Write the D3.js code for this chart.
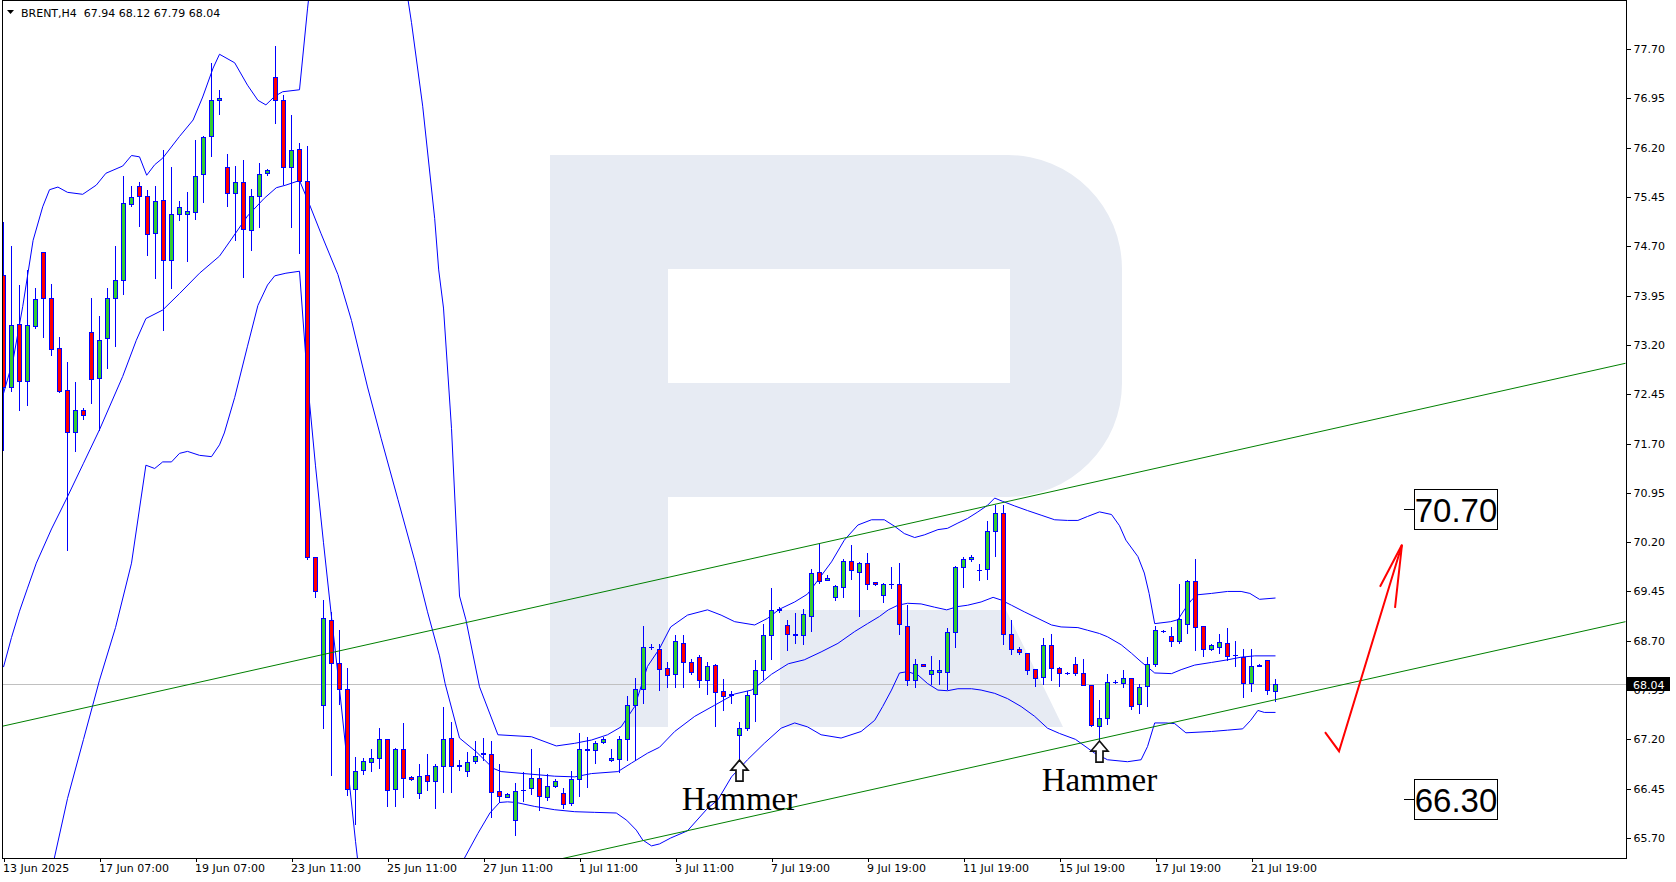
<!DOCTYPE html>
<html><head><meta charset="utf-8">
<script src="https://cdn.jsdelivr.net/npm/d3@7"></script>
<style>
html,body{margin:0;padding:0;background:#fff;}
svg{display:block;}
</style></head><body>
<svg id="chart" width="1676" height="882"></svg>
<script>
// ---------------- data ----------------
const symbolTitle = "BRENT,H4";
const lastQuote = [67.94, 68.12, 67.79, 68.04];
const lastPrice = 68.04;

const opens = [74.27,72.56,73.52,72.65,73.49,74.61,73.92,73.15,72.51,71.88,72.21,73.40,72.69,73.30,73.92,74.18,75.34,75.61,75.47,74.90,
75.40,74.49,75.19,75.19,75.22,75.80,76.38,76.93,75.90,75.51,75.68,74.95,75.47,75.82,77.28,76.92,75.91,76.18,75.69,69.97,
67.73,69.02,68.36,67.97,66.44,66.73,66.86,66.91,67.20,66.44,67.06,66.63,66.39,66.66,66.56,66.80,67.22,66.80,66.72,66.87,
66.98,66.97,66.42,66.33,65.98,66.43,66.46,66.62,66.32,66.49,66.39,66.23,66.59,67.06,67.04,67.16,66.88,66.90,67.20,67.73,
67.96,68.61,68.57,68.28,68.19,68.67,68.38,68.45,68.11,68.33,67.94,67.88,67.26,67.37,67.89,68.26,68.79,69.17,68.94,68.81,
68.78,69.08,69.74,69.62,69.36,69.52,69.91,69.75,69.89,69.59,69.39,69.56,69.56,68.93,68.11,68.35,68.19,68.22,68.22,68.83,
69.82,69.94,69.78,69.79,70.37,70.64,68.81,68.57,68.51,68.27,68.15,68.64,68.28,68.21,68.34,68.21,68.03,67.41,67.52,68.08,
68.05,68.13,67.74,68.01,68.34,68.85,68.77,68.69,68.96,69.61,68.92,68.58,68.61,68.66,68.48,68.46,68.05,68.32,68.40,67.94];
const highs = [75.07,74.71,74.11,74.34,74.07,74.61,74.13,73.32,72.94,72.64,72.24,73.92,73.64,74.07,74.71,75.77,75.62,75.67,75.56,75.62,
76.16,75.90,75.39,75.52,76.32,76.38,77.49,77.08,76.11,75.92,76.01,75.57,75.97,75.88,77.74,77.00,76.70,76.27,76.23,69.98,
69.32,69.14,68.86,68.29,66.93,66.91,67.05,67.37,67.21,67.07,67.45,66.64,66.83,66.98,66.83,67.69,67.46,66.88,67.01,67.17,
67.22,67.18,66.82,66.38,66.53,66.71,67.05,66.76,66.68,66.59,66.46,66.72,67.29,67.24,67.18,67.23,67.05,67.25,67.86,68.13,
68.92,68.65,68.65,68.38,68.79,68.79,68.43,68.48,68.38,68.35,68.12,67.93,67.47,67.93,68.40,68.95,69.50,69.22,69.01,69.12,
69.18,69.79,70.17,69.70,69.55,69.94,70.16,69.90,70.04,69.60,69.58,69.82,69.89,69.24,68.43,68.35,68.47,68.41,68.89,69.83,
69.98,70.00,69.87,70.52,70.76,70.76,69.02,68.61,68.51,68.27,68.74,68.80,68.30,68.23,68.45,68.43,68.03,67.80,68.19,68.10,
68.25,68.13,68.04,68.45,68.92,68.86,68.91,69.56,69.62,69.94,68.93,68.65,68.81,68.90,68.70,68.57,68.57,68.34,68.41,68.12];
const lows = [71.60,72.50,72.21,72.28,73.45,73.32,73.05,72.49,70.08,71.59,72.07,72.31,71.91,72.85,73.19,73.97,75.31,75.01,74.57,74.22,
73.43,74.07,75.10,74.48,75.12,75.37,76.08,76.71,75.31,74.79,74.23,74.65,74.99,75.79,76.58,75.64,74.99,74.59,69.95,69.37,
67.37,66.66,67.74,66.35,65.92,66.68,66.72,66.77,66.19,66.19,66.33,66.58,66.31,66.43,66.15,66.40,66.40,66.73,66.64,66.84,
66.89,66.02,66.25,66.32,65.75,66.27,66.37,66.13,66.28,66.48,66.15,66.20,66.34,66.47,66.84,67.15,66.87,66.71,66.89,66.88,
67.76,68.57,67.95,68.00,67.99,67.99,68.19,67.99,67.89,67.41,67.64,67.76,66.90,67.35,67.48,68.12,68.43,69.14,68.56,68.67,
68.65,68.85,69.58,69.62,69.32,69.36,69.64,69.07,69.49,69.55,69.29,69.50,68.80,68.02,67.99,68.31,68.04,68.04,67.96,68.61,
69.52,69.92,69.63,69.64,69.99,68.65,68.50,68.50,68.19,68.01,68.04,68.11,68.01,68.19,68.18,68.02,67.40,67.19,67.43,68.06,
67.99,67.66,67.60,67.71,68.31,68.83,68.62,68.67,68.82,68.56,68.47,68.56,68.52,68.40,68.32,67.84,67.94,68.31,67.89,67.79];
const closes = [72.56,73.50,72.65,73.50,73.90,73.92,73.13,72.50,71.88,72.21,72.13,72.68,73.28,73.92,74.18,75.36,75.45,75.46,74.89,75.39,
74.49,75.19,75.30,75.23,75.77,76.36,76.93,76.96,75.51,75.68,74.96,75.47,75.80,75.86,76.92,75.91,76.17,75.69,69.97,69.46,
69.04,68.36,67.97,66.44,66.72,66.87,66.91,67.20,66.43,67.06,66.62,66.60,66.65,66.56,66.79,67.21,66.80,66.81,66.85,66.95,
66.99,66.40,66.34,66.37,66.42,66.43,66.61,66.34,66.49,66.56,66.22,66.59,67.06,67.04,67.15,67.20,66.91,67.20,67.73,67.96,
68.60,68.61,68.27,68.18,68.69,68.38,68.23,68.11,68.32,67.92,67.86,67.89,67.37,67.87,68.26,68.79,69.17,69.19,68.81,68.78,
69.10,69.73,69.61,69.65,69.53,69.91,69.77,69.89,69.56,69.56,69.56,69.56,68.95,68.11,68.35,68.31,68.25,68.25,68.84,69.82,
69.94,69.98,69.78,70.37,70.64,68.81,68.57,68.53,68.26,68.13,68.64,68.28,68.21,68.21,68.21,68.03,67.42,67.52,68.08,68.08,
68.13,67.71,67.99,68.34,68.86,68.85,68.69,69.03,69.61,68.91,68.57,68.64,68.68,68.47,68.48,68.05,68.32,68.33,67.95,68.04];

// Bollinger bands: [bar index, price]
const bbUpper = [[0,72.46],[1.2,72.97],[2.4,73.78],[3.7,74.79],[4.9,75.30],[5.75,75.56],[6.8,75.60],[8,75.52],[9.9,75.49],[11.6,75.63],[12.8,75.81],[14.9,75.92],[16,76.08],[17,76.06],[17.9,75.78],[18.9,75.94],[19.9,76.04],[22,76.37],[23.7,76.62],[24.9,76.97],[26.2,77.41],[27,77.62],[28.9,77.49],[30.5,77.15],[31.8,76.92],[32.8,76.85],[33.9,76.98],[34.9,77.05],[37,77.08],[38,78.31],[39,79.4],[40,80.1],[41,80.5],[42,80.5],[43,80.8],[44,81.0],[45,81.0],[46,80.8],[47,80.5],[48,80.1],[49,79.6],[50,78.9],[51,78.1],[52.4,76.83],[53.9,75.12],[54.4,74.34],[55,73.76],[56,71.93],[57,69.38],[57.8,69.02],[59.5,68.00],[61.8,67.27],[66,67.24],[69.1,67.10],[71.4,67.14],[73.5,67.19],[75.5,67.27],[77.2,67.39],[78.9,67.70],[80.5,68.31],[82,68.58],[83.4,68.91],[85.5,69.09],[88,69.17],[89.7,69.09],[91.4,68.99],[93.9,68.94],[95.5,69.04],[97,69.18],[98.9,69.29],[100.5,69.41],[101.8,69.62],[103.5,69.90],[105.1,70.23],[106.8,70.46],[108.5,70.54],[110.1,70.54],[111.4,70.44],[112.6,70.33],[113.9,70.27],[115.1,70.31],[116.8,70.39],[118,70.41],[119.3,70.49],[120.5,70.56],[121.8,70.66],[123,70.76],[123.9,70.87],[124.9,70.82],[126.4,70.75],[128,70.68],[129.7,70.61],[131.4,70.54],[133,70.53],[134.3,70.53],[135.5,70.59],[137,70.66],[138.5,70.62],[139.5,70.45],[140.3,70.23],[141.8,69.98],[142.6,69.73],[143.2,69.42],[143.9,68.96],[145.9,68.99],[146.8,69.02],[147.6,69.17],[148.5,69.32],[149.3,69.40],[151,69.42],[153,69.45],[154.7,69.45],[155.8,69.42],[157,69.33],[159,69.35]];
const bbMiddle = [[0,68.3],[1,68.75],[2,69.15],[3,69.5],[4.1,69.88],[6,70.4],[7.8,70.84],[10,71.4],[12,71.91],[14.9,72.72],[16.6,73.27],[17.8,73.60],[19.9,73.73],[22,73.98],[24.5,74.29],[27,74.55],[28.5,74.81],[30.5,75.16],[32.6,75.43],[34.1,75.59],[35.3,75.63],[37,75.70],[38.2,75.35],[39.7,74.89],[41.8,74.27],[43.5,73.57],[45.5,72.56],[47.2,71.78],[49.3,70.85],[51.4,69.92],[53,69.14],[54.5,68.47],[55.2,68.05],[57,67.22],[59.1,67.01],[61.2,66.76],[62.2,66.71],[66,66.67],[68.9,66.64],[71.4,66.63],[73.5,66.68],[76.8,66.71],[78.5,66.84],[80.5,66.99],[82,67.08],[83.9,67.32],[86.4,67.55],[88.9,67.72],[91.4,67.89],[93.5,67.95],[94.7,68.06],[96,68.19],[98.1,68.35],[100.1,68.41],[102.2,68.53],[104.3,68.66],[106.4,68.84],[108,68.96],[109.5,69.07],[110.6,69.17],[111.8,69.24],[113,69.27],[114.7,69.26],[116.4,69.21],[117.9,69.17],[119.3,69.22],[120.5,69.24],[122.2,69.29],[123.7,69.36],[124.7,69.32],[126,69.24],[127.6,69.14],[129.3,69.04],[131,68.94],[132.2,68.91],[134.3,68.90],[135.5,68.86],[137,68.81],[138,68.76],[139.7,68.64],[141,68.51],[142.2,68.38],[143.2,68.28],[143.9,68.21],[146,68.20],[147.2,68.26],[148.9,68.33],[151,68.37],[153,68.41],[154.7,68.45],[156.4,68.47],[159,68.47]];
const bbLower = [[0,64.1],[4,64.5],[6,65.2],[8,66.3],[10,67.2],[12,68.1],[14,68.9],[16,69.88],[17.8,71.37],[18.9,71.32],[19.9,71.42],[21,71.42],[22,71.55],[23,71.58],[24.5,71.52],[26,71.50],[27,71.68],[27.6,71.86],[28.9,72.40],[30.5,73.18],[31.8,73.80],[33,74.11],[33.9,74.25],[35.3,74.29],[37,74.32],[38,72.65],[39,71.36],[40,70.19],[41,69.06],[42,67.97],[43,66.81],[44,65.65],[45,64.6],[46,63.9],[47,63.3],[48,62.7],[49,62.4],[50,62.1],[51,62.1],[52,61.9],[53,62.1],[54,62.5],[55,62.72],[56,63.61],[57,65.28],[57.6,65.39],[59.3,65.77],[60.8,66.08],[62,66.24],[63,66.25],[64.1,66.24],[66.4,66.18],[68.9,66.13],[71.4,66.10],[73.9,66.09],[76.6,66.08],[77.9,65.97],[79.1,65.82],[79.9,65.67],[81,65.58],[82,65.61],[83.4,65.70],[85.5,65.81],[88,66.15],[89.3,66.28],[91,66.63],[93,66.89],[95.1,67.14],[97.2,67.37],[98.9,67.45],[100.5,67.39],[102.2,67.27],[104.7,67.22],[107.2,67.32],[108.9,67.49],[109.9,67.70],[111,67.95],[112,68.21],[113,68.23],[114.3,68.18],[115.5,68.05],[116.8,67.95],[118,67.94],[119.3,67.97],[121,67.97],[122.2,67.95],[123.9,67.90],[125.5,67.82],[127.2,67.70],[128.9,67.55],[130.5,67.37],[132,67.29],[134,67.20],[136.4,66.99],[138,66.89],[140.5,66.86],[142.2,66.89],[143,67.09],[143.9,67.45],[145.3,67.45],[146.4,67.44],[147.8,67.30],[151,67.32],[153,67.34],[154.9,67.36],[155.9,67.49],[156.8,67.64],[157.6,67.61],[159,67.61]];

const priceTicks = [65.70,66.45,67.20,67.95,68.70,69.45,70.20,70.95,71.70,72.45,73.20,73.95,74.70,75.45,76.20,76.95,77.70];
const timeTickBars = [0,12,24,36,48,60,72,84,96,108,120,132,144,156];
const timeTickLabels = ["13 Jun 2025","17 Jun 07:00","19 Jun 07:00","23 Jun 11:00","25 Jun 11:00","27 Jun 11:00","1 Jul 11:00","3 Jul 11:00","7 Jul 19:00","9 Jul 19:00","11 Jul 19:00","15 Jul 19:00","17 Jul 19:00","21 Jul 19:00"];

// channel lines (bar, price)
const channelUpper = [[-0.5, 67.39], [202.75, 72.92]];
const channelLower = [[60, 65.12], [202.75, 68.99]];
// annotations
const hammerBars = [92, 137];
const hammerLabel = "Hammer";
const targetLevels = [70.70, 66.30];
const forecastPath = [[165.19, 67.31], [166.94, 67.02], [174.81, 70.16]];
const forecastHead = [[172.06, 69.52], [174.81, 70.16], [173.94, 69.20]];

// ---------------- layout ----------------
const W = 1676, H = 882;
const plot = {left: 3, top: 1, right: 1626, bottom: 858};
const FONT = "'DejaVu Sans', Verdana, sans-serif";

const x = d3.scaleLinear().domain([0, 159]).range([3.5, 3.5 + 8 * 159]);
const y = d3.scaleLinear().domain([65.70, 77.70]).range([838, 49]);

const svg = d3.select("#chart");
svg.append("rect").attr("width", W).attr("height", H).attr("fill", "#fff");

const defs = svg.append("defs");
defs.append("clipPath").attr("id", "clip").append("rect")
  .attr("x", plot.left).attr("y", plot.top)
  .attr("width", plot.right - plot.left).attr("height", plot.bottom - plot.top);

const g = svg.append("g").attr("clip-path", "url(#clip)");

// watermark logo
const wm = "M550,155 H1008 A114,114 0 0 1 1122,269 V383 A114,114 0 0 1 1008,497 H668 V727 H550 Z " +
           "M668,269 H1010 V383 H668 Z";
g.append("path").attr("d", wm).attr("fill", "#e7ebf3").attr("fill-rule", "evenodd");
g.append("path").attr("d", "M780,610 H1006 L1063,727 H780 Z").attr("fill", "#e7ebf3");

// current price line
const yLast = Math.round(y(lastPrice)) + 0.5;
g.append("line").attr("x1", plot.left).attr("x2", plot.right).attr("y1", yLast).attr("y2", yLast)
  .attr("stroke", "#c0c0c0").attr("stroke-width", 1).attr("shape-rendering", "crispEdges");

// bollinger bands
const line = d3.line().x(d => x(d[0])).y(d => y(d[1]));
[bbUpper, bbMiddle, bbLower].forEach(arr => {
  g.append("path").attr("d", line(arr)).attr("fill", "none")
    .attr("stroke", "#0000ff").attr("stroke-width", 1);
});

// candles
const bars = opens.map((o, i) => ({i, o, h: highs[i], l: lows[i], c: closes[i]}));
const cg = g.append("g").attr("shape-rendering", "crispEdges");
bars.forEach(b => {
  const xc = x(b.i);
  const yh = Math.round(y(b.h)), yl = Math.round(y(b.l));
  cg.append("line").attr("x1", xc).attr("x2", xc).attr("y1", yh).attr("y2", yl + 1)
    .attr("stroke", "#0000ff").attr("stroke-width", 1);
  const yo = Math.round(y(b.o)), yc = Math.round(y(b.c));
  const top = Math.min(yo, yc), bot = Math.max(yo, yc);
  if (bot - top < 1) {
    cg.append("line").attr("x1", xc - 2.5).attr("x2", xc + 2.5).attr("y1", top + 0.5).attr("y2", top + 0.5)
      .attr("stroke", "#0000ff").attr("stroke-width", 1);
  } else {
    cg.append("rect").attr("x", xc - 2).attr("y", top + 0.5).attr("width", 4).attr("height", bot - top)
      .attr("fill", b.c >= b.o ? "#32cd32" : "#ff0000").attr("stroke", "#0000ff").attr("stroke-width", 1);
  }
});

// channel lines
[channelUpper, channelLower].forEach(arr => {
  g.append("path").attr("d", line(arr)).attr("fill", "none").attr("stroke", "#008000").attr("stroke-width", 1);
});

// hammer arrows + labels
hammerBars.forEach(i => {
  const xc = x(i), t = y(lows[i]) + 1;
  const pts = [[0,0],[8.5,10],[3.5,10],[3.5,21],[-3.5,21],[-3.5,10],[-8.5,10]].map(p => [xc + p[0], t + p[1]]);
  g.append("polygon").attr("points", pts.map(p => p.join(",")).join(" "))
    .attr("fill", "#fff").attr("stroke", "#111").attr("stroke-width", 1.7).attr("stroke-linejoin", "miter");
  g.append("text").attr("x", xc).attr("y", t + 50).attr("text-anchor", "middle")
    .attr("font-family", "'Liberation Serif', 'Times New Roman', serif").attr("font-size", 33)
    .attr("fill", "#000").text(hammerLabel);
});

// forecast arrow
g.append("path").attr("d", line(forecastPath)).attr("fill", "none").attr("stroke", "#ff0000").attr("stroke-width", 2);
g.append("path").attr("d", line(forecastHead)).attr("fill", "none").attr("stroke", "#ff0000").attr("stroke-width", 2);

// target boxes
targetLevels.forEach(v => {
  const yy = Math.round(y(v)) + 0.5;
  g.append("line").attr("x1", 1404).attr("x2", 1414).attr("y1", yy).attr("y2", yy).attr("stroke", "#000");
  g.append("rect").attr("x", 1414.5).attr("y", yy - 20).attr("width", 83).attr("height", 40)
    .attr("fill", "#fff").attr("stroke", "#000").attr("stroke-width", 1);
  g.append("text").attr("x", 1456).attr("y", yy + 12).attr("text-anchor", "middle")
    .attr("font-family", "'Liberation Sans', Arial, sans-serif").attr("font-size", 33)
    .attr("fill", "#000").text(v.toFixed(2));
});

// frame
svg.append("rect").attr("x", 2.5).attr("y", 0.5).attr("width", plot.right - 2).attr("height", plot.bottom - 0.5)
  .attr("fill", "none").attr("stroke", "#000").attr("stroke-width", 1).attr("shape-rendering", "crispEdges");

// right axis
const ya = svg.append("g").attr("transform", `translate(${plot.right + 0.5},0)`)
  .call(d3.axisRight(y).tickValues(priceTicks).tickFormat(d3.format(".2f")).tickSize(4).tickPadding(3));
ya.select(".domain").remove();
ya.selectAll("line").attr("stroke", "#000").attr("shape-rendering", "crispEdges");
ya.selectAll("text").attr("font-family", FONT).attr("font-size", 11).attr("fill", "#000");
ya.selectAll(".tick").attr("transform", d => `translate(0,${Math.round(y(d)) + 0.5})`);

// bottom axis
const xa = svg.append("g").attr("transform", `translate(0,${plot.bottom - 0.5})`)
  .call(d3.axisBottom(x).tickValues(timeTickBars).tickFormat((d, k) => timeTickLabels[k]).tickSize(4).tickPadding(3));
xa.select(".domain").remove();
xa.selectAll("line").attr("stroke", "#000").attr("shape-rendering", "crispEdges");
xa.selectAll("text").attr("font-family", FONT).attr("font-size", 11).attr("fill", "#000")
  .attr("text-anchor", "start").attr("x", -1);

// last price tag
svg.append("rect").attr("x", 1627).attr("y", yLast - 7.5).attr("width", 43).attr("height", 14).attr("fill", "#000");
svg.append("text").attr("x", 1633).attr("y", yLast + 4).attr("font-family", FONT).attr("font-size", 11)
  .attr("fill", "#fff").text(lastPrice.toFixed(2));

// header
svg.append("path").attr("d", "M7,10 L14,10 L10.5,14 Z").attr("fill", "#000");
svg.append("text").attr("x", 21).attr("y", 17).attr("font-family", FONT).attr("font-size", 11).attr("fill", "#000")
  .attr("xml:space", "preserve")
  .text(symbolTitle + "  " + lastQuote.map(v => v.toFixed(2)).join(" "));
</script>
</body></html>
